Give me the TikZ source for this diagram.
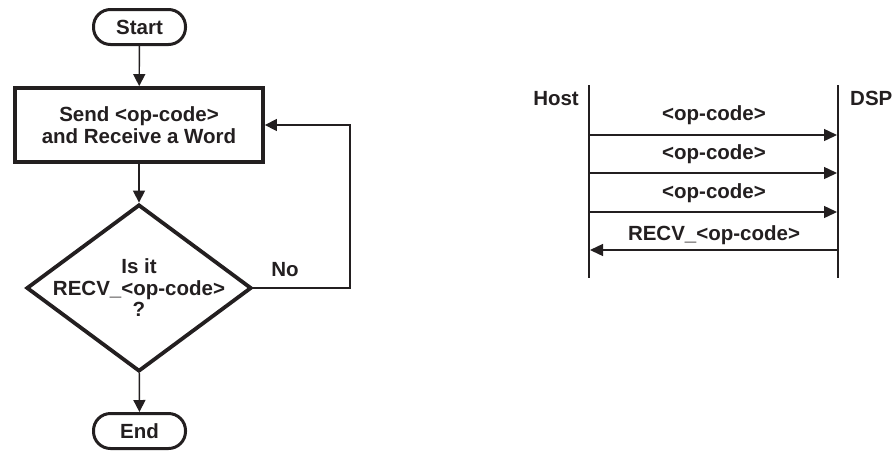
\documentclass[tikz,border=0pt]{standalone}
\usepackage{fontspec}
\setmainfont{Liberation Sans}
\usetikzlibrary{arrows.meta,shapes.geometric}
\definecolor{ink}{RGB}{35,31,32}
\begin{document}
\begin{tikzpicture}[x=1pt,y=-1pt, color=ink,
  txt/.style={font=\fontsize{20.5}{21.5}\selectfont\bfseries, inner sep=0pt, align=center, text=ink},
  term/.style={draw=ink, line width=3pt, rounded corners=17pt, minimum width=92pt, minimum height=35pt, inner sep=0pt, txt},
  procbox/.style={draw=ink, line width=3.8pt, minimum width=248pt, minimum height=74pt, txt},
  decision/.style={draw=ink, diamond, line width=3.8pt, minimum width=225pt, minimum height=167pt, inner sep=0pt},
  flow/.style={draw=ink, line width=1.4pt, -{Triangle[length=12pt,width=12pt]}},
  lifeline/.style={draw=ink, line width=2.2pt},
  msg/.style={draw=ink, line width=1.4pt, -{Triangle[length=13pt,width=12pt]}}
]
\path[use as bounding box] (0,0) rectangle (893,451);

% flowchart
\node[term] (start) at (139.5,27) {Start};
\node[procbox] (box) at (139,125) {Send <op-code>\\and Receive a Word};
\node[decision] (dec) at (139,288) {};
\node[txt] (dectxt) at (139,288) {Is it\\RECV\_<op-code>\\?};
\node[term] (end) at (139.5,431) {End};
\node[txt, anchor=base] (no) at (285,276) {No};
\coordinate (loopcorner) at (350,288);

\draw[flow] (start) -- (box);
\draw[flow] (box) -- (dec);
\draw[flow] (dec) -- (end);
\draw[flow] (dec.east) -- (loopcorner) |- (box.east);

% sequence
\coordinate (h1) at (589,85);
\coordinate (h2) at (589,278);
\coordinate (d1) at (838,85);
\coordinate (d2) at (838,278);
\draw[lifeline] (h1) -- (h2);
\draw[lifeline] (d1) -- (d2);
\node[txt, anchor=base east] (host) at (579,105) {Host};
\node[txt, anchor=base west] (dsp) at (850,105) {DSP};

\coordinate (a1s) at (589,135); \coordinate (a1e) at (837,135);
\coordinate (a2s) at (589,173); \coordinate (a2e) at (837,173);
\coordinate (a3s) at (589,212); \coordinate (a3e) at (837,212);
\coordinate (a4s) at (838,250); \coordinate (a4e) at (590,250);
\draw[msg] (a1s) -- (a1e);
\draw[msg] (a2s) -- (a2e);
\draw[msg] (a3s) -- (a3e);
\draw[msg] (a4s) -- (a4e);
\node[txt, anchor=base] (l1) at (714,120) {<op-code>};
\node[txt, anchor=base] (l2) at (714,159) {<op-code>};
\node[txt, anchor=base] (l3) at (714,198) {<op-code>};
\node[txt, anchor=base] (l4) at (714,240) {RECV\_<op-code>};
\end{tikzpicture}
\end{document}
